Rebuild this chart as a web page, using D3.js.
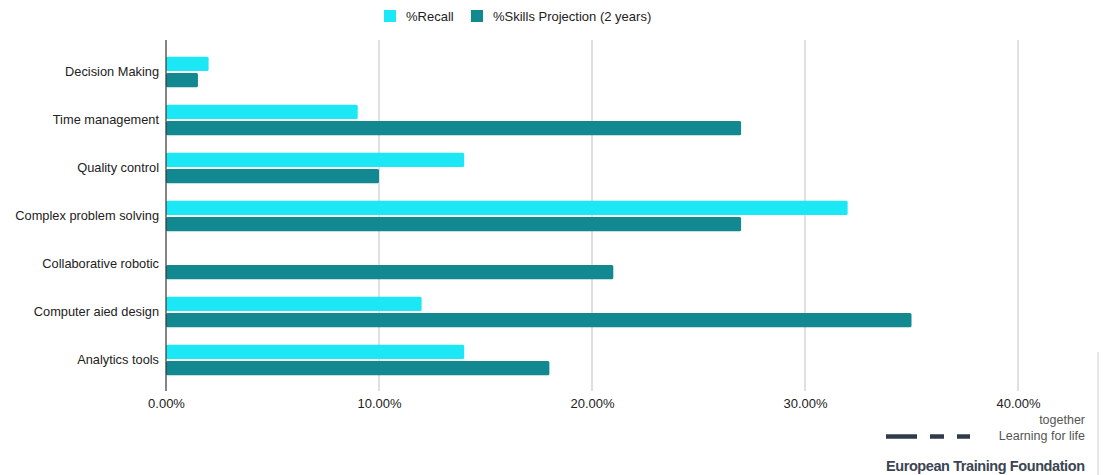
<!DOCTYPE html>
<html><head><meta charset="utf-8">
<script src="https://cdn.jsdelivr.net/npm/d3@7"></script>
<style>body{margin:0;background:#fff;}svg{display:block;font-family:"Liberation Sans",Arial,sans-serif;}</style>
</head><body>
<svg id="c" width="1110" height="475"></svg>
<script>
const categories = ["Decision Making","Time management","Quality control","Complex problem solving","Collaborative robotic","Computer aied design","Analytics tools"];
const recall = [0.02,0.09,0.14,0.32,0,0.12,0.14];
const skills = [0.015,0.27,0.10,0.27,0.21,0.35,0.18];
const seriesNames = ["%Recall","%Skills Projection (2 years)"];
const colors = ["#1ce8f5","#128990"];
const tickValues = [0,0.1,0.2,0.3,0.4];

const svg = d3.select("#c");
const x = d3.scaleLinear().domain([0,0.4]).range([166,1018]);
const y = d3.scaleBand().domain(categories).range([48,384]).paddingInner(0.36).paddingOuter(0.18);
const sub = d3.scaleBand().domain([0,1]).range([0,y.bandwidth()]).paddingInner(0.12);

// grid
svg.append("g").selectAll("line").data(tickValues.slice(1)).join("line")
  .attr("x1",d=>x(d)).attr("x2",d=>x(d)).attr("y1",40).attr("y2",391)
  .attr("stroke","#d6d6d6").attr("stroke-width",1.5);

// bars
const data = [];
categories.forEach((c,i)=>{ data.push({c,s:0,v:recall[i]}); data.push({c,s:1,v:skills[i]}); });
svg.append("g").selectAll("rect").data(data.filter(d=>d.v>0)).join("rect")
  .attr("x",x(0)).attr("y",d=>y(d.c)+sub(d.s)).attr("height",sub.bandwidth())
  .attr("width",d=>x(d.v)-x(0)).attr("rx",1.5).attr("fill",d=>colors[d.s]);

// baseline axis
svg.append("line").attr("x1",x(0)).attr("x2",x(0)).attr("y1",40).attr("y2",391)
  .attr("stroke","#333").attr("stroke-width",1.2);

// y labels
const ya = svg.append("g").attr("transform",`translate(${x(0)},0)`)
  .call(d3.axisLeft(y).tickSize(0).tickPadding(7));
ya.select(".domain").remove();
ya.selectAll("text").attr("font-size",12.8).attr("fill","#222").attr("font-family","Liberation Sans, Arial, sans-serif");

// x labels
const xa = svg.append("g").attr("transform","translate(0,391)")
  .call(d3.axisBottom(x).tickValues(tickValues).tickSize(0).tickPadding(8).tickFormat(d3.format(".2%")));
xa.select(".domain").remove();
xa.selectAll("text").attr("font-size",13).attr("fill","#222").attr("font-family","Liberation Sans, Arial, sans-serif");

// legend
const lg = svg.append("g");
const lx = [384,471];
seriesNames.forEach((n,i)=>{
  lg.append("rect").attr("x",lx[i]).attr("y",10).attr("width",12).attr("height",12).attr("fill",colors[i]);
  lg.append("text").attr("x",lx[i]+22).attr("y",20.5).attr("font-size",13).attr("fill","#222").text(n);
});

// logo
const logo = svg.append("g");
logo.append("line").attr("x1",1098).attr("x2",1098).attr("y1",352).attr("y2",475).attr("stroke","#d0d0d0");
[[886,917],[930,944],[957,970]].forEach(s=>{
  logo.append("line").attr("x1",s[0]).attr("x2",s[1]).attr("y1",436.5).attr("y2",436.5).attr("stroke","#2f3b4a").attr("stroke-width",4.5);
});
logo.append("text").attr("x",1085).attr("y",424).attr("text-anchor","end").attr("font-size",12.5).attr("fill","#555").text("together");
logo.append("text").attr("x",1085).attr("y",440).attr("text-anchor","end").attr("font-size",12.5).attr("fill","#555").text("Learning for life");
logo.append("text").attr("x",886).attr("y",471).attr("font-size",14.5).attr("fill","#3b4553").attr("font-weight","bold").attr("textLength",199).text("European Training Foundation");
</script>
</body></html>
